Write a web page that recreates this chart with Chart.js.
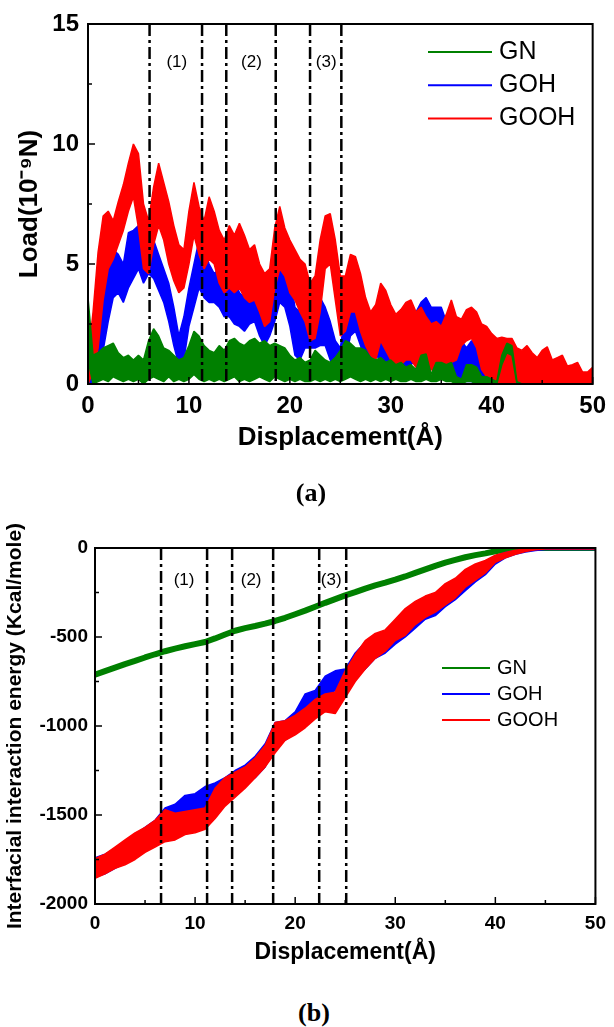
<!DOCTYPE html>
<html>
<head>
<meta charset="utf-8">
<script src="https://cdn.jsdelivr.net/npm/chart.js@4.4.1/dist/chart.umd.min.js"></script>
<style>
  html, body { margin: 0; padding: 0; background: #fff; }
  body { width: 614px; height: 1027px; position: relative; overflow: hidden; }
  .box { position: absolute; left: 0; width: 614px; }
  #topBox { top: 0; height: 470px; }
  #botBox { top: 500px; height: 480px; }
  .tag { position: absolute; font: bold 26px "Liberation Serif", "Times New Roman", serif; transform: translate(-50%, -50%); }
</style>
</head>
<body>
<div class="box" id="topBox"><canvas id="load" width="614" height="470"></canvas></div>
<div class="box" id="botBox"><canvas id="energy" width="614" height="480"></canvas></div>
<div class="tag" style="left:311px;top:493px">(a)</div>
<div class="tag" style="left:314px;top:1013px">(b)</div>
<script>
const FONT = '"Liberation Sans", Arial, sans-serif';
const GREEN = '#008000', BLUE = '#0000ff', RED = '#ff0000';

const seriesNames = ['GN', 'GOH', 'GOOH'];
const seriesColors = [GREEN, BLUE, RED];

// (a) load vs displacement, upper / lower edge of the noisy band, every 0.5 A from 0 to 50
const LOAD_STEP = 0.5;
const gnHi = [
  3.6,1.2,1.3,1.5,1.6,1.7,1.3,1.1,1.2,1.0,
  1.2,1.0,1.8,2.3,2.0,1.5,1.4,1.2,1.0,1.1,
  1.6,2.2,2.0,1.6,1.4,1.3,1.6,1.4,1.8,1.9,
  1.7,1.6,1.8,1.9,1.7,1.8,1.6,1.7,1.6,1.5,
  1.2,1.0,1.1,0.9,1.0,1.4,1.2,1.0,0.9,1.1,
  1.4,1.8,1.7,1.5,1.5,1.4,1.1,1.0,1.1,0.9,
  1.0,0.8,0.9,0.7,0.8,0.6,1.2,1.25,0.4,0.9,
  0.9,0.8,0.9,0.3,0.2,0.8,0.8,0.7,0.3,0.3,
  0.2,0.1,1.2,1.7,1.6,0.1,0,0,0,0,
  0,0,0,0,0,0,0,0,0,0,
  0];
const gnLo = [
  1.0,0.0,0.1,0.2,0.1,0.3,0.2,0.1,0.2,0.1,
  0.2,0.0,0.2,0.3,0.2,0.1,0.3,0.1,0.2,0.1,
  0.2,0.4,0.2,0.1,0.2,0.1,0.2,0.1,0.2,0.3,
  0.1,0.2,0.1,0.2,0.3,0.2,0.1,0.3,0.2,0.1,
  0.2,0.1,0.2,0.1,0.1,0.2,0.1,0.2,0.1,0.2,
  0.1,0.2,0.3,0.2,0.1,0.2,0.1,0.2,0.1,0.2,
  0.1,0.2,0.1,0.1,0.2,0.1,0.1,0.2,0.1,0.1,
  0.2,0.1,0.1,0.0,0.0,0.1,0.1,0.0,0.0,0.0,
  0.0,0.0,0.8,1.3,1.2,0.0,0,0,0,0,
  0,0,0,0,0,0,0,0,0,0,
  0];
const gohHi = [
  0.0,1.0,2.6,3.8,5.0,5.6,5.4,5.0,6.3,6.4,
  6.6,6.0,6.2,6.0,5.4,4.8,4.2,3.2,2.0,2.8,
  4.0,5.0,6.0,5.6,5.0,4.6,4.8,4.2,4.8,4.4,
  3.8,3.6,4.4,4.2,3.5,3.6,4.0,4.6,5.2,5.0,
  4.6,3.2,3.0,3.6,3.8,3.4,3.6,3.2,2.6,1.8,
  1.5,3.0,4.0,4.2,3.6,2.6,2.0,3.2,2.8,2.4,
  2.2,2.6,2.0,2.2,2.8,3.0,3.4,3.6,3.2,3.2,
  3.2,2.6,3.0,2.2,1.8,1.5,1.8,1.6,0.6,0.2,
  0,0,0,0,0,0,0,0,0,0,
  0,0,0,0,0,0,0,0,0,0,
  0];
const gohLo = [
  0.0,0.0,0.5,1.4,2.6,3.6,3.8,3.4,4.0,4.4,
  4.8,4.2,4.6,4.4,3.9,3.4,2.6,1.6,0.8,1.0,
  2.4,3.2,4.0,3.6,3.4,3.4,3.2,2.8,2.8,2.5,
  2.4,2.2,2.5,2.6,2.0,1.6,2.0,2.6,3.4,3.2,
  2.4,1.2,1.0,1.5,1.5,1.5,1.6,1.6,1.0,0.6,
  0.3,1.0,2.0,2.2,1.6,1.0,0.8,1.2,1.0,0.8,
  0.6,0.5,0.4,0.6,0.8,1.0,1.2,1.5,1.2,1.0,
  0.8,0.6,0.5,0.3,0.2,0.1,0.1,0.0,0.0,0.0,
  0,0,0,0,0,0,0,0,0,0,
  0,0,0,0,0,0,0,0,0,0,
  0];
const goohHi = [
  1.0,3.0,5.5,7.0,7.2,6.8,7.6,8.3,9.2,10.0,
  9.6,7.5,6.8,8.2,9.2,8.4,7.6,6.6,5.8,5.6,
  7.2,8.4,7.4,6.8,7.8,7.2,6.4,6.0,6.6,6.2,
  6.7,6.2,5.6,5.8,5.0,4.6,4.8,6.5,7.4,6.5,
  6.0,5.6,5.2,5.0,4.2,4.5,6.0,7.0,7.1,6.0,
  4.5,4.5,5.4,5.3,4.6,3.6,3.0,3.3,4.2,3.9,
  3.3,2.9,3.1,3.4,3.5,3.0,3.2,2.8,2.5,2.6,
  2.4,2.9,3.5,2.8,2.7,3.1,3.2,3.0,2.5,2.4,
  2.1,1.9,1.95,1.9,1.9,1.5,1.4,1.6,1.3,1.1,
  1.4,1.55,1.0,1.1,1.2,0.75,0.8,0.9,0.5,0.5,
  0.7];
const goohLo = [
  0.0,0.5,1.5,3.5,4.8,5.2,5.8,6.4,7.2,7.8,
  6.5,4.8,4.6,5.8,6.6,6.0,5.0,4.3,3.8,4.0,
  5.0,6.2,5.4,4.8,5.2,5.0,4.2,3.8,4.0,3.8,
  4.0,3.6,3.4,3.5,3.0,2.4,2.6,4.0,4.8,4.5,
  3.8,3.5,3.0,2.6,1.8,1.9,3.0,4.8,5.0,3.5,
  2.0,2.2,3.0,3.0,2.2,1.6,1.2,1.0,1.8,1.4,
  1.0,0.7,0.8,1.0,1.0,0.7,0.6,0.5,0.6,0.5,
  0.5,0.7,0.9,1.0,1.6,1.8,1.9,1.5,0.6,0.3,
  0,0,0,0,0,0,0,0,0,0,
  0,0,0,0,0,0,0,0,0,0,
  0];
const loadMarkers = [6.1, 11.3, 13.7, 18.6, 22.0, 25.1];
const loadRegionX = [8.8, 16.2, 23.6];
const loadRegionY = 13.4;

// (b) interaction energy, upper / lower edge every 1 A from 0 to 50
const ENERGY_STEP = 1;
const gnEnergy = [
  -712,-692,-672,-652,-634,-615,-597,-580,-565,-552,
  -540,-528,-508,-486,-465,-450,-438,-425,-410,-392,
  -372,-352,-330,-308,-287,-266,-248,-228,-210,-195,
  -178,-160,-140,-120,-100,-82,-67,-52,-40,-30,
  -18,-10,-4,-1,0,0,0,0,0,0,0];
const gohEnergyHi = [
  -1740,-1720,-1690,-1650,-1610,-1570,-1530,-1460,-1440,-1390,
  -1380,-1340,-1320,-1290,-1250,-1220,-1170,-1100,-980,-970,
  -920,-820,-800,-720,-690,-680,-590,-530,-500,-470,
  -420,-370,-320,-290,-270,-220,-180,-130,-100,-80,
  -45,-25,-15,-8,-4,-2,-2,-2,-2,-2,-2];
const gohEnergyLo = [
  -1850,-1830,-1800,-1770,-1730,-1690,-1650,-1600,-1580,-1540,
  -1530,-1480,-1450,-1410,-1380,-1330,-1290,-1230,-1120,-1080,
  -1040,-960,-900,-840,-800,-790,-720,-680,-620,-590,
  -540,-500,-450,-400,-380,-330,-290,-240,-190,-150,
  -90,-55,-35,-22,-14,-8,-8,-8,-8,-8,-8];
const goohEnergyHi = [
  -1745,-1720,-1680,-1640,-1600,-1570,-1530,-1470,-1490,-1480,
  -1470,-1460,-1350,-1290,-1260,-1230,-1180,-1110,-980,-970,
  -940,-900,-850,-820,-810,-690,-600,-520,-480,-460,
  -400,-340,-300,-270,-250,-200,-170,-120,-90,-70,
  -40,-25,-12,-5,-2,0,0,0,0,0,0];
const goohEnergyLo = [
  -1855,-1830,-1800,-1780,-1750,-1710,-1680,-1650,-1640,-1610,
  -1600,-1580,-1520,-1450,-1400,-1350,-1290,-1230,-1150,-1080,
  -1050,-1010,-960,-920,-930,-840,-750,-680,-620,-580,
  -520,-490,-430,-390,-360,-320,-280,-220,-180,-140,
  -80,-55,-35,-20,-10,-6,-6,-6,-6,-6,-6];
const energyMarkers = [6.6, 11.2, 13.7, 17.8, 22.4, 25.1];
const energyRegionX = [8.9, 15.6, 23.6];
const energyRegionY = -180;

const regionNames = ['(1)', '(2)', '(3)'];

function points(vals, step) {
  return vals.map((v, i) => ({ x: i * step, y: v }));
}

function trace(data, color, width) {
  return { data: data, borderColor: color, borderWidth: width, fill: false,
           borderJoinStyle: 'bevel', pointRadius: 0, tension: 0 };
}

// noisy band: upper edge filled down to the lower edge (next dataset)
function band(hi, lo, step, color) {
  return [
    Object.assign(trace(points(hi, step), color, 1.5), { fill: '+1', backgroundColor: color }),
    trace(points(lo, step), color, 1.5)
  ];
}

function bold(size) {
  return { family: FONT, size: size, weight: 'bold' };
}

const decor = {
  id: 'decor',
  afterDatasetsDraw(chart, args, o) {
    const { ctx, chartArea: a, scales: { x, y } } = chart;
    ctx.save();
    // dash-dot borders of the regions
    ctx.strokeStyle = '#000';
    ctx.lineWidth = 2.5;
    ctx.setLineDash([12, 4, 3, 4]);
    o.markers.forEach(v => {
      const px = x.getPixelForValue(v);
      ctx.beginPath();
      ctx.moveTo(px, a.top);
      ctx.lineTo(px, a.bottom);
      ctx.stroke();
    });
    ctx.setLineDash([]);

    ctx.fillStyle = '#000';
    ctx.font = o.regionFont;
    ctx.textAlign = 'center';
    ctx.textBaseline = 'middle';
    regionNames.forEach((t, i) => {
      ctx.fillText(t, x.getPixelForValue(o.regionX[i]), y.getPixelForValue(o.regionY));
    });

    // frame
    ctx.lineWidth = 2;
    ctx.strokeRect(a.left, a.top, a.right - a.left, a.bottom - a.top);

    // inward ticks
    const tick = (px, py, dx, dy) => {
      ctx.beginPath();
      ctx.moveTo(px, py);
      ctx.lineTo(px + dx, py + dy);
      ctx.stroke();
    };
    ctx.lineWidth = 1.5;
    x.ticks.forEach(t => tick(x.getPixelForValue(t.value), a.bottom, 0, -7));
    o.xMinor.forEach(v => tick(x.getPixelForValue(v), a.bottom, 0, -4));
    y.ticks.forEach(t => tick(a.left, y.getPixelForValue(t.value), 7, 0));
    o.yMinor.forEach(v => tick(a.left, y.getPixelForValue(v), 4, 0));

    // legend
    ctx.font = o.legendFont;
    ctx.textAlign = 'left';
    seriesNames.forEach((name, i) => {
      const ly = o.legendY + i * o.legendGap;
      ctx.strokeStyle = seriesColors[i];
      ctx.lineWidth = 2;
      ctx.beginPath();
      ctx.moveTo(o.legendX, ly);
      ctx.lineTo(o.legendX + o.legendLen, ly);
      ctx.stroke();
      ctx.fillText(name, o.legendX + o.legendLen + 7, ly);
    });
    ctx.restore();
  }
};

function baseOptions(cfg) {
  return {
    responsive: false,
    animation: false,
    events: [],
    layout: { padding: { top: cfg.top, right: 15, left: 0, bottom: 0 } },
    plugins: { legend: { display: false }, tooltip: { enabled: false }, decor: cfg.decor },
    scales: {
      x: {
        type: 'linear', min: 0, max: 50,
        ticks: { stepSize: 10, font: bold(cfg.tickSize), color: '#000', padding: cfg.xPad,
                 callback: v => String(v) },
        grid: { display: false, drawTicks: false },
        border: { display: false },
        title: { display: true, text: 'Displacement(Å)', font: bold(cfg.xTitleSize), color: '#000',
                 padding: { top: 0, bottom: cfg.xTitlePad } },
        afterFit: s => { s.height = cfg.xHeight; }
      },
      y: {
        type: 'linear', min: cfg.yMin, max: cfg.yMax,
        ticks: { stepSize: cfg.yStep, font: bold(cfg.tickSize), color: '#000', padding: cfg.yPad,
                 callback: v => String(v) },
        grid: { display: false, drawTicks: false },
        border: { display: false },
        title: { display: true, text: cfg.yTitle, font: bold(cfg.yTitleSize), color: '#000',
                 padding: { top: cfg.yTitlePad, bottom: 0 } },
        afterFit: s => { s.width = cfg.yWidth; }
      }
    }
  };
}

new Chart(document.getElementById('load'), {
  type: 'line',
  data: {
    datasets: [
      ...band(gnHi, gnLo, LOAD_STEP, GREEN),
      ...band(goohHi, goohLo, LOAD_STEP, RED),
      ...band(gohHi, gohLo, LOAD_STEP, BLUE)
    ]
  },
  options: baseOptions({
    top: 24, tickSize: 24, xPad: 8, xTitleSize: 26, xTitlePad: 17, xHeight: 86,
    yMin: 0, yMax: 15, yStep: 5, yPad: 9, yTitle: 'Load(10⁻⁹N)', yTitleSize: 26, yTitlePad: 14, yWidth: 88,
    decor: {
      markers: loadMarkers, regionX: loadRegionX, regionY: loadRegionY,
      regionFont: '17px ' + FONT,
      xMinor: [5, 15, 25, 35, 45], yMinor: [2.5, 7.5, 12.5],
      legendX: 428, legendY: 52, legendGap: 33.3, legendLen: 64, legendFont: '25px ' + FONT
    }
  }),
  plugins: [decor]
});

new Chart(document.getElementById('energy'), {
  type: 'line',
  data: {
    datasets: [
      ...band(goohEnergyHi, goohEnergyLo, ENERGY_STEP, RED),
      ...band(gohEnergyHi, gohEnergyLo, ENERGY_STEP, BLUE),
      trace(points(gnEnergy, ENERGY_STEP), GREEN, 6)
    ]
  },
  options: baseOptions({
    top: 48, tickSize: 19, xPad: 8, xTitleSize: 23, xTitlePad: 14, xHeight: 76,
    yMin: -2000, yMax: 0, yStep: 500, yPad: 7, yTitle: 'Interfacial interaction energy (Kcal/mole)',
    yTitleSize: 21, yTitlePad: 3, yWidth: 95,
    decor: {
      markers: energyMarkers, regionX: energyRegionX, regionY: energyRegionY,
      regionFont: '17px ' + FONT,
      xMinor: [5, 15, 25, 35, 45], yMinor: [-250, -750, -1250, -1750],
      legendX: 442, legendY: 168, legendGap: 26, legendLen: 48, legendFont: '20px ' + FONT
    }
  }),
  plugins: [decor]
});
</script>
</body>
</html>
